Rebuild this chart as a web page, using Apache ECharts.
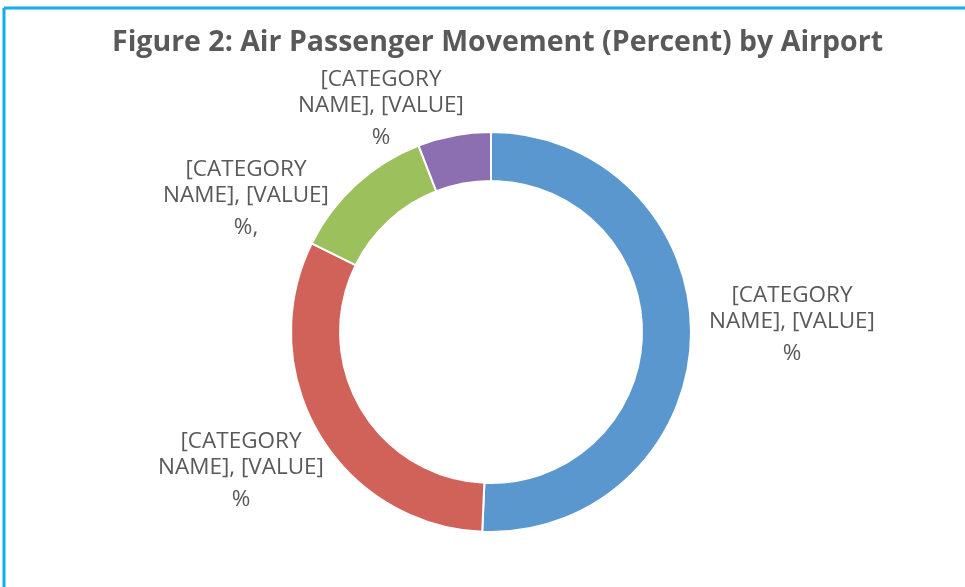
<!DOCTYPE html>
<html>
<head>
<meta charset="utf-8">
<title>Air Passenger Movement</title>
<script src="https://cdn.jsdelivr.net/npm/echarts@6/dist/echarts.min.js"></script>
<style>
    html, body { margin: 0; padding: 0; background: #fff; }
    #chart { width: 965px; height: 587px; }
</style>
</head>
<body>
<div id="chart"></div>
<script>
// data (placeholder labels kept as in the original)
var categories = ['Airport A', 'Airport B', 'Airport C', 'Airport D'];
var shares = [50.7, 31.6, 11.8, 5.9];
var colors = ['#5b97cf', '#d0625a', '#9cc05c', '#8c6fb0'];
var labelTail = ['%', '%', '%,', '%'];

var titleText = 'Figure 2: Air Passenger Movement (Percent) by Airport';

var CENTER = [491, 332];
// where Excel put each label, relative to the pie centre
var labelOffsets = [[301, -4], [-250, 142], [-245, -130], [-110, -220]];

var myChart = echarts.init(document.getElementById('chart'));

var option = {
    backgroundColor: '#fff',
    animation: false,
    title: {
        text: titleText,
        left: 107,
        top: 21,
        textStyle: {
            fontFamily: 'Open Sans',
            fontWeight: 'bold',
            fontSize: 28.5,
            lineHeight: 34,
            color: '#595959'
        }
    },
    graphic: [{
        type: 'line',
        shape: { x1: 4, y1: 8, x2: 965, y2: 8 },
        style: { stroke: '#12aee8', lineWidth: 3 }
    }, {
        type: 'line',
        shape: { x1: 4, y1: 8, x2: 4, y2: 587 },
        style: { stroke: '#12aee8', lineWidth: 3 }
    }],
    series: [{
        type: 'pie',
        center: CENTER,
        radius: [151, 200],
        startAngle: 90,
        clockwise: true,
        avoidLabelOverlap: false,
        itemStyle: {
            borderColor: '#fff',
            borderWidth: 2
        },
        label: {
            show: true,
            position: 'outside',
            formatter: function(p) {
                return '{a|[CATEGORY}\n{a|NAME], [VALUE]}\n{b|' + labelTail[p.dataIndex] + '}';
            },
            color: '#595959',
            fontFamily: 'Open Sans',
            fontSize: 22.5,
            rich: {
                a: { fontFamily: 'Open Sans', fontSize: 22.5, lineHeight: 26, color: '#595959', align: 'center' },
                b: { fontFamily: 'Open Sans', fontSize: 22.5, lineHeight: 38, color: '#595959', align: 'center' }
            }
        },
        labelLine: { show: false },
        labelLayout: function(params) {
            var off = labelOffsets[params.dataIndex];
            return {
                x: CENTER[0] + off[0],
                y: CENTER[1] + off[1],
                align: 'center',
                verticalAlign: 'middle'
            };
        },
        data: categories.map(function(name, i) {
            return {
                name: name,
                value: shares[i],
                itemStyle: { color: colors[i] }
            };
        })
    }]
};

myChart.setOption(option);
</script>
</body>
</html>
